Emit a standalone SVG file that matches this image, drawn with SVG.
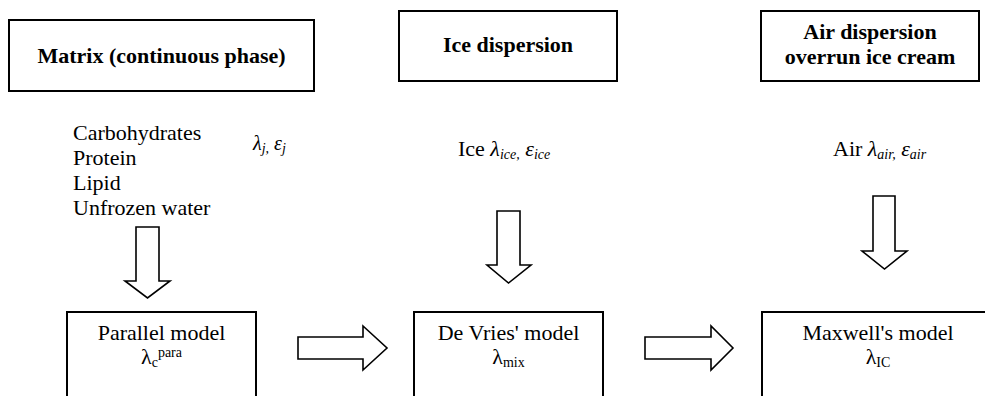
<svg xmlns="http://www.w3.org/2000/svg" width="985" height="396" viewBox="0 0 985 396">
<style>
.box{fill:#fff;stroke:#000;stroke-width:2}
.arr{fill:#fff;stroke:#000;stroke-width:1.6;stroke-linejoin:miter}
text{font-family:"Liberation Serif","Times New Roman",serif;fill:#000;font-size:22px}
.b{font-weight:bold}
.c{text-anchor:middle}
.i{font-style:italic}
.s{font-size:14px}
</style>
<rect width="985" height="396" fill="#fff"/>
<g id="matrix">
<rect class="box" x="9" y="20" width="305" height="71"/>
<text class="b c" x="161.5" y="63">Matrix (continuous phase)</text>
</g>
<g id="ice-dispersion">
<rect class="box" x="399" y="11" width="218" height="70"/>
<text class="b c" x="508" y="52">Ice dispersion</text>
</g>
<g id="air-dispersion">
<rect class="box" x="761" y="11" width="218" height="70"/>
<text class="b c" x="870" y="39">Air dispersion</text>
<text class="b c" x="870" y="64">overrun ice cream</text>
</g>
<g id="components">
<text x="73" y="140">Carbohydrates</text>
<text x="73" y="165">Protein</text>
<text x="73" y="190">Lipid</text>
<text x="73" y="215">Unfrozen water</text>
<text class="i" x="253" y="150" style="font-size:20px">λ<tspan class="s" dy="3">j,</tspan><tspan dy="-3"> ε</tspan><tspan class="s" dy="3">j</tspan></text>
</g>
<g id="ice">
<text x="458" y="156">Ice <tspan class="i">λ</tspan><tspan class="i s" dy="3">ice,</tspan><tspan class="i" dy="-3"> ε</tspan><tspan class="i s" dy="3">ice</tspan></text>
</g>
<g id="air">
<text x="833" y="156">Air <tspan class="i">λ</tspan><tspan class="i s" dy="3">air,</tspan><tspan class="i" dy="-3"> ε</tspan><tspan class="i s" dy="3">air</tspan></text>
</g>
<g id="parallel-model">
<rect class="box" x="67" y="312" width="189" height="100"/>
<text class="c" x="161.5" y="340">Parallel model</text>
<text class="c" x="161.5" y="364">λ<tspan class="s" dy="3">c</tspan><tspan class="s" dy="-10">para</tspan></text>
</g>
<g id="de-vries-model">
<rect class="box" x="414" y="312" width="189" height="100"/>
<text class="c" x="508.5" y="340">De Vries' model</text>
<text class="c" x="508.5" y="364">λ<tspan class="s" dy="3">mix</tspan></text>
</g>
<g id="maxwell-model">
<rect class="box" x="762" y="312" width="232" height="100"/>
<text class="c" x="878" y="340">Maxwell's model</text>
<text class="c" x="878" y="364">λ<tspan class="s" dy="3">IC</tspan></text>
</g>
<g id="connectors">
<polygon class="arr" points="136,227 159,227 159,281 170,281 147.5,298 125,281 136,281"/>
<polygon class="arr" points="497,211 520,211 520,265 531,265 508.5,283 487,265 497,265"/>
<polygon class="arr" points="873,196 895,196 895,251 907,251 884.5,269 862,251 873,251"/>
<polygon class="arr" points="298,337 363,337 363,326 387,348 363,370 363,359 298,359"/>
<polygon class="arr" points="645,337 711,337 711,326 733,348 711,370 711,359 645,359"/>
</g>
</svg>
